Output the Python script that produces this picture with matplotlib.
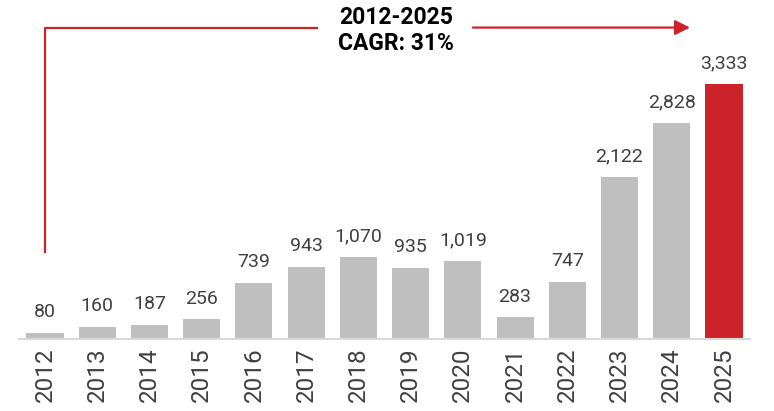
import numpy as np
import matplotlib.pyplot as plt

years = ['2012', '2013', '2014', '2015', '2016', '2017', '2018', '2019',
         '2020', '2021', '2022', '2023', '2024', '2025']
values = [80, 160, 187, 256, 739, 943, 1070, 935, 1019, 283, 747, 2122, 2828, 3333]
cagr_title = '2012-2025'
cagr_text = 'CAGR: 31%'

grey = '#BFBFBF'
red = '#CC2229'
txt = '#404040'

plt.rcParams['font.family'] = ['Roboto', 'DejaVu Sans']

fig = plt.figure(figsize=(7.74, 4.11), dpi=100)
ax = fig.add_axes([0.0244, 0.175, 0.9447, 0.825])

x = np.arange(len(years))
colors = [grey] * (len(years) - 1) + [red]
ax.bar(x, values, width=0.71, color=colors, zorder=2)

for xi, v in zip(x, values):
    ax.text(xi, v + 150, f'{v:,}', ha='center', va='bottom', fontsize=14, color=txt)

ax.set_xlim(-0.5, len(years) - 0.5)
ax.set_ylim(0, 4430)
ax.set_xticks(x)
ax.set_xticklabels(years, rotation=90, fontsize=17.5, color=txt)
ax.tick_params(axis='x', length=0, pad=6)
ax.set_yticks([])
for s in ['top', 'right', 'left']:
    ax.spines[s].set_visible(False)
ax.spines['bottom'].set_color('#D9D9D9')
ax.spines['bottom'].set_linewidth(1.5)

# CAGR arrow
y_top = 4070
x_end = len(years) - 1 - 0.65
ax.plot([0, 0, 5.23], [1130, y_top, y_top], color=red, lw=1.6, solid_capstyle='butt')
ax.annotate('', xy=(x_end, y_top), xytext=(8.19, y_top),
            arrowprops=dict(arrowstyle='-|>,head_length=0.9,head_width=0.45',
                            color=red, lw=1.6, shrinkA=0, shrinkB=0))
ax.text(6.72, 4195, cagr_title, ha='center', va='center', fontsize=16.5,
        fontweight='bold', color='black')
ax.text(6.72, 3860, cagr_text, ha='center', va='center', fontsize=16.5,
        fontweight='bold', color='black')

fig.savefig('out.png', dpi=100)
